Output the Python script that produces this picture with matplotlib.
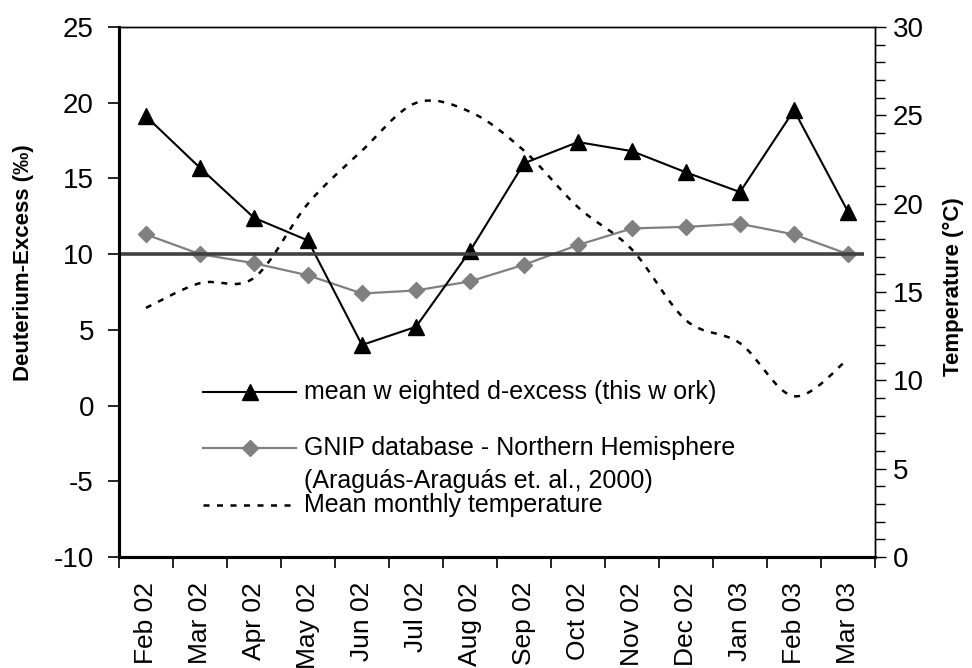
import matplotlib
matplotlib.use('Agg')
import matplotlib.pyplot as plt
import numpy as np
from matplotlib.path import Path
from matplotlib.patches import PathPatch
from matplotlib.ticker import MultipleLocator, FixedLocator

plt.rcParams['font.family'] = ['Liberation Sans', 'DejaVu Sans']
plt.rcParams['axes.unicode_minus'] = False

months = ['Feb 02', 'Mar 02', 'Apr 02', 'May 02', 'Jun 02', 'Jul 02', 'Aug 02',
          'Sep 02', 'Oct 02', 'Nov 02', 'Dec 02', 'Jan 03', 'Feb 03', 'Mar 03']
d_excess = [19.1, 15.7, 12.4, 10.9, 4.0, 5.2, 10.2, 16.0, 17.4, 16.8, 15.4, 14.1, 19.5, 12.8]
gnip = [11.3, 10.0, 9.4, 8.6, 7.4, 7.6, 8.2, 9.3, 10.6, 11.7, 11.8, 12.0, 11.3, 10.0]
temperature = [14.1, 15.5, 15.8, 20.0, 23.0, 25.7, 25.2, 23.0, 19.8, 17.4, 13.4, 12.1, 9.1, 11.2]
gmwl_excess = 10


def smoothed_path(xs, ys):
    # cubic bezier through every point, like a spreadsheet "smoothed line"
    pts = np.column_stack([xs, ys]).astype(float)
    n = len(pts)
    verts = [pts[0]]
    codes = [Path.MOVETO]
    for i in range(n - 1):
        p0 = pts[i - 1] if i > 0 else pts[i]
        p1, p2 = pts[i], pts[i + 1]
        p3 = pts[i + 2] if i + 2 < n else p2
        verts += [p1 + (p2 - p0) / 6, p2 - (p3 - p1) / 6, p2]
        codes += [Path.CURVE4] * 3
    return Path(verts, codes)


x = np.arange(len(months))
temp_dash = (0, (2.4, 3.0))

fig = plt.figure(figsize=(9.72, 6.68), dpi=100)
ax = fig.add_axes([0.1224, 0.1662, 0.7778, 0.7934])
ax2 = ax.twinx()

ax.plot(x, gnip, color='#808080', lw=1.6, marker='D', ms=8.5,
        mfc='#808080', mec='#808080', zorder=2)
ax.plot(x, d_excess, color='black', lw=1.5, marker='^', ms=11.5, zorder=2)
ax.hlines(gmwl_excess, -0.5, 13.3, color='#404040', lw=2.6, zorder=3)

temp_line = PathPatch(smoothed_path(x, temperature), fill=False, edgecolor='black',
                      lw=1.8, linestyle=temp_dash, transform=ax2.transData)
ax2.add_patch(temp_line)

ax.set_xlim(-0.5, len(months) - 0.5)
ax.set_ylim(-10, 25)
ax2.set_ylim(0, 30)

# category labels at centres, tick marks on boundaries
ax.xaxis.set_major_locator(FixedLocator(x))
ax.set_xticklabels(months, rotation=90, va='top', ha='center', fontsize=19)
ax.xaxis.set_minor_locator(FixedLocator(np.arange(-0.5, len(months), 1.0)))
ax.tick_params(axis='x', which='major', length=0, pad=18)
ax.tick_params(axis='x', which='minor', length=8, width=1.2, direction='out')

ax.yaxis.set_major_locator(MultipleLocator(5))
ax.tick_params(axis='y', which='major', length=8, width=1.2, direction='out',
               labelsize=20, pad=10)

ax2.yaxis.set_major_locator(MultipleLocator(5))
ax2.yaxis.set_minor_locator(MultipleLocator(1))
ax2.tick_params(axis='y', which='major', length=8, width=1.0, direction='out',
                labelsize=20, pad=5)
ax2.tick_params(axis='y', which='minor', length=7, width=1.0, direction='out')

for a in (ax, ax2):
    a.spines['top'].set_linewidth(1.0)
    a.spines['right'].set_linewidth(1.0)
    a.spines['left'].set_linewidth(2.2)
    a.spines['bottom'].set_linewidth(2.2)

ax.set_ylabel('Deuterium-Excess (‰)', fontsize=16, fontweight='bold')
ax.yaxis.set_label_coords(-0.112, 0.555)
ax2.set_ylabel('Temperature (°C)', fontsize=16, fontweight='bold')
ax2.yaxis.set_label_coords(1.09, 0.51)

# legend drawn inside the plot area
leg_x0, leg_x1, leg_xm, txt_x = 0.111, 0.234, 0.173, 0.245
leg_fs = 18
ax.plot([leg_x0, leg_x1], [0.311, 0.311], color='black', lw=1.5,
        transform=ax.transAxes, zorder=4)
ax.plot([leg_xm], [0.311], marker='^', ms=11.5, color='black',
        transform=ax.transAxes, zorder=4)
ax.text(txt_x, 0.311, 'mean w eighted d-excess (this w ork)', fontsize=leg_fs,
        va='center', ha='left', transform=ax.transAxes)

ax.plot([leg_x0, leg_x1], [0.2057, 0.2057], color='#808080', lw=1.6,
        transform=ax.transAxes, zorder=4)
ax.plot([leg_xm], [0.2057], marker='D', ms=8.5, color='#808080',
        transform=ax.transAxes, zorder=4)
ax.text(txt_x, 0.2057, 'GNIP database - Northern Hemisphere', fontsize=leg_fs,
        va='center', ha='left', transform=ax.transAxes)
ax.text(txt_x, 0.143, '(Araguás-Araguás et. al., 2000)', fontsize=leg_fs,
        va='center', ha='left', transform=ax.transAxes)

ax.plot([leg_x0, leg_x1], [0.099, 0.099], color='black', lw=1.8,
        linestyle=temp_dash, transform=ax.transAxes, zorder=4)
ax.text(txt_x, 0.099, 'Mean monthly temperature', fontsize=leg_fs,
        va='center', ha='left', transform=ax.transAxes)

fig.savefig('out.png', dpi=100)
plt.close(fig)
